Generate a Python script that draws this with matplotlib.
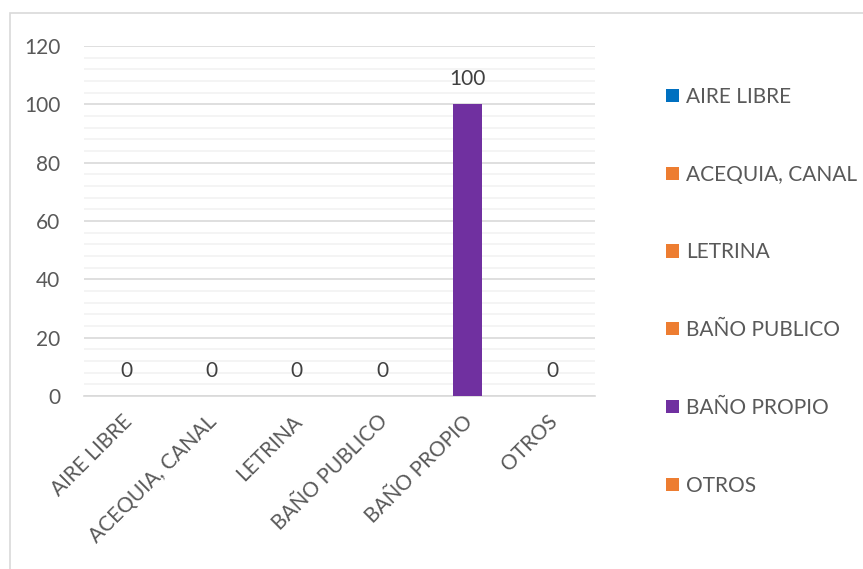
import matplotlib.pyplot as plt
import matplotlib.transforms as mtransforms
from matplotlib.patches import Rectangle, Patch
from matplotlib.ticker import MultipleLocator

categorias = ['AIRE LIBRE', 'ACEQUIA, CANAL', 'LETRINA', 'BAÑO PUBLICO', 'BAÑO PROPIO', 'OTROS']
valores = [0, 0, 0, 0, 100, 0]
colores = ['#0070C0', '#ED7D31', '#ED7D31', '#ED7D31', '#7030A0', '#ED7D31']

txt = '#595959'
plt.rcParams['font.family'] = ['Lato', 'DejaVu Sans']

fig = plt.figure(figsize=(8.63, 5.69), dpi=100)
fig.patches.append(Rectangle((10 / 863, -0.1), 1.2, 1 - 13 / 569 + 0.1,
                             transform=fig.transFigure, fill=False,
                             edgecolor='#D9D9D9', linewidth=1.2))

ax = fig.add_axes([84 / 863, 1 - 396 / 569, 511 / 863, 350 / 569])
x = range(len(categorias))
bars = ax.bar(x, valores, width=0.34, color=colores, zorder=3)

for b, v in zip(bars, valores):
    ax.annotate(str(v), (b.get_x() + b.get_width() / 2, v), xytext=(0, 11),
                textcoords='offset points', ha='center', va='bottom',
                fontsize=15, color='#404040')

ax.set_xlim(-0.5, len(categorias) - 0.5)
ax.set_ylim(0, 120)
ax.yaxis.set_major_locator(MultipleLocator(20))
ax.yaxis.set_minor_locator(MultipleLocator(4))
ax.grid(axis='y', which='major', color='#D9D9D9', linewidth=1.2, zorder=0)
ax.grid(axis='y', which='minor', color='#F2F2F2', linewidth=1.2, zorder=0)
for s in ['top', 'right', 'left']:
    ax.spines[s].set_visible(False)
ax.spines['bottom'].set_color('#D9D9D9')
ax.spines['bottom'].set_linewidth(1.2)
ax.tick_params(axis='both', which='both', length=0, colors=txt, labelsize=15)
ax.tick_params(axis='y', pad=17)
ax.tick_params(axis='x', pad=11)
ax.set_xticks(list(x))
ax.set_xticklabels(categorias, rotation=45, ha='right', rotation_mode='anchor')
shift = mtransforms.ScaledTranslation(-5 / 100, 0, fig.dpi_scale_trans)
for lbl in ax.get_xticklabels():
    lbl.set_transform(lbl.get_transform() + shift)

handles = [Patch(facecolor=c, label=n) for n, c in zip(categorias, colores)]
fig.legend(handles=handles, loc='upper left', bbox_to_anchor=(666 / 863, 1 - 87 / 569),
           frameon=False, fontsize=15, labelcolor=txt, handlelength=0.6,
           handleheight=0.6, handletextpad=0.35, labelspacing=2.77,
           borderaxespad=0, borderpad=0)

fig.savefig('out.png', dpi=100)
